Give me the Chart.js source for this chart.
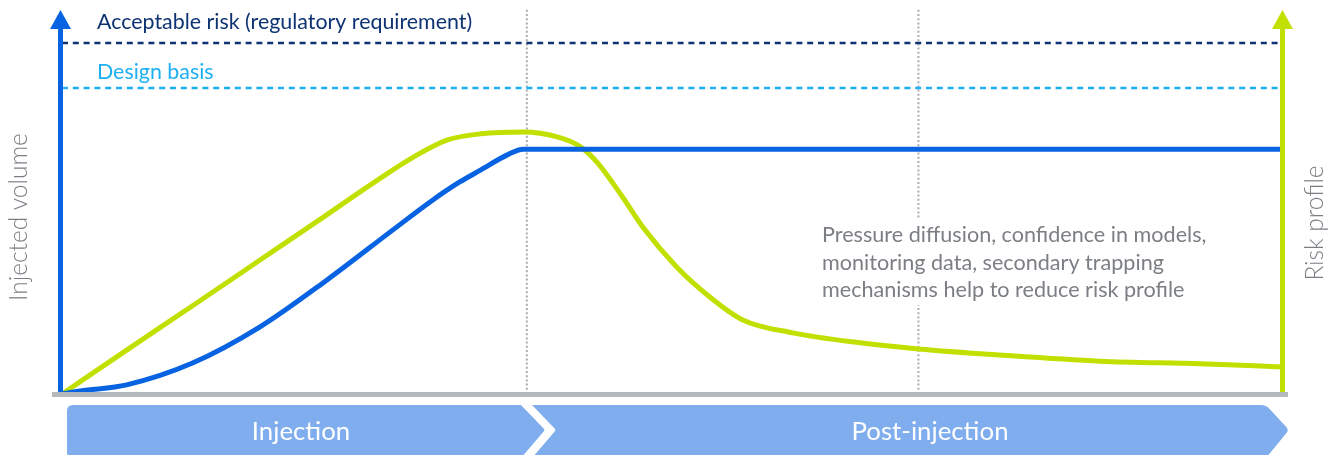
<!DOCTYPE html>
<html>
<head>
<meta charset="utf-8">
<script src="https://cdn.jsdelivr.net/npm/chart.js@4/dist/chart.umd.min.js"></script>
<style>
  html, body { margin: 0; padding: 0; background: #ffffff; }
  #wrap { width: 1340px; height: 455px; }
</style>
</head>
<body>
<div id="wrap"><canvas id="c" width="1340" height="455"></canvas></div>
<script>
// Time runs 0..100 across the project life, levels are on a 0..100 scale.
const injectedTime   = [0, 1.5, 5.3, 10.7, 16.2, 21.7, 27.1, 30.4, 32.6, 34.3, 36.5, 37.8, 60, 80, 100];
const injectedVolume = [0, 0.8, 2.4, 8.1, 17.5, 29.8, 42.9, 50.8, 55.5, 58.6, 62.6, 64.1, 64.1, 64.1, 64.1];

const riskTime    = [0, 5.3, 10.7, 16.2, 21.7, 26.1, 28.8, 31.6, 34.3, 37.8, 40.6, 42.5, 43.9, 46.0, 47.6, 50.4, 53.1, 55.8, 59.9, 65.4, 70.2, 76.9, 85.1, 93.3, 100];
const riskProfile = [0, 11.5, 23.1, 35.0, 46.9, 56.5, 62.0, 66.5, 68.1, 68.6, 67.3, 64.7, 60.5, 51.3, 43.7, 33.2, 25.4, 19.4, 16.0, 13.4, 11.8, 10.2, 8.6, 7.9, 7.1];

const acceptableRisk = 91.9;
const designBasis    = 80.1;
const phaseBoundaries = [38.1, 70.2];

const phaseLabels = ['Injection', 'Post-injection'];
const noteLines = [
  'Pressure diffusion, confidence in models,',
  'monitoring data, secondary trapping',
  'mechanisms help to reduce risk profile'
];

const BLUE = '#0863e2';
const GREEN = '#c1e000';
const NAVY = '#0e3372';
const SKY = '#1cb0f2';
const GREY_TEXT = '#7b7f84';
const FONT = 'Lato, "Open Sans", sans-serif';

const toPts = (xs, ys) => xs.map((x, i) => ({ x, y: ys[i] }));

const datasets = [
  {
    label: 'Injected volume',
    data: toPts(injectedTime, injectedVolume),
    borderColor: BLUE, borderWidth: 5,
    cubicInterpolationMode: 'monotone',
    pointRadius: 0, fill: false, clip: false, order: 0
  },
  {
    label: 'Risk profile',
    data: toPts(riskTime, riskProfile),
    borderColor: GREEN, borderWidth: 5,
    cubicInterpolationMode: 'monotone',
    pointRadius: 0, fill: false, clip: false, order: 1
  },
  {
    label: 'Acceptable risk (regulatory requirement)',
    data: [{ x: 0, y: acceptableRisk }, { x: 100, y: acceptableRisk }],
    borderColor: NAVY, borderWidth: 2.5, borderDash: [6, 4.8],
    pointRadius: 0, fill: false, clip: false, order: 3
  },
  {
    label: 'Design basis',
    data: [{ x: 0, y: designBasis }, { x: 100, y: designBasis }],
    borderColor: SKY, borderWidth: 2.5, borderDash: [6, 4.8],
    pointRadius: 0, fill: false, clip: false, order: 3
  }
];
phaseBoundaries.forEach(b => datasets.push({
  label: 'phase boundary',
  data: [{ x: b, y: 0 }, { x: b, y: 100.6 }],
  borderColor: '#a9acb0', borderWidth: 2, borderDash: [2, 2.2],
  pointRadius: 0, fill: false, clip: false, order: 5
}));

function roundedPoly(ctx, pts) {
  ctx.beginPath();
  const n = pts.length;
  for (let i = 0; i < n; i++) {
    const p0 = pts[(i - 1 + n) % n], p1 = pts[i], p2 = pts[(i + 1) % n];
    const rr = p1[2];
    const d1 = Math.hypot(p0[0] - p1[0], p0[1] - p1[1]);
    const d2 = Math.hypot(p2[0] - p1[0], p2[1] - p1[1]);
    const a = [p1[0] + (p0[0] - p1[0]) * rr / d1, p1[1] + (p0[1] - p1[1]) * rr / d1];
    const b = [p1[0] + (p2[0] - p1[0]) * rr / d2, p1[1] + (p2[1] - p1[1]) * rr / d2];
    if (i === 0) ctx.moveTo(a[0], a[1]); else ctx.lineTo(a[0], a[1]);
    ctx.quadraticCurveTo(p1[0], p1[1], b[0], b[1]);
  }
  ctx.closePath();
}

const decorations = {
  id: 'decorations',
  afterDatasetsDraw(chart) {
    const { ctx, chartArea: ca, scales: { y } } = chart;
    ctx.save();

    // note box: blanks the boundary line behind the text
    ctx.fillStyle = '#ffffff';
    ctx.fillRect(812, 219, 405, 86);
    ctx.fillStyle = GREY_TEXT;
    ctx.font = '21.6px ' + FONT;
    ctx.textAlign = 'left';
    ctx.textBaseline = 'alphabetic';
    noteLines.forEach((t, i) => ctx.fillText(t, 822, 242 + i * 27.5));

    // horizontal reference labels
    ctx.font = '21.4px ' + FONT;
    ctx.fillStyle = NAVY;
    ctx.fillText('Acceptable risk (regulatory requirement)', 97, y.getPixelForValue(acceptableRisk) - 14);
    ctx.fillStyle = SKY;
    ctx.fillText('Design basis', 97, y.getPixelForValue(designBasis) - 9);

    // vertical axes with arrow heads
    const drawAxis = (px, color) => {
      ctx.fillStyle = color;
      ctx.fillRect(px - 2.5, 27, 5, ca.bottom - 27);
      ctx.beginPath();
      ctx.moveTo(px, 10);
      ctx.lineTo(px + 10.5, 29);
      ctx.lineTo(px - 10.5, 29);
      ctx.closePath();
      ctx.fill();
    };
    drawAxis(60.5, BLUE);
    drawAxis(1282.5, GREEN);

    // baseline
    ctx.fillStyle = '#b6b9bc';
    ctx.fillRect(52, 392, 1236, 5);

    // axis titles
    ctx.fillStyle = GREY_TEXT;
    ctx.font = '300 24.5px ' + FONT;
    ctx.textAlign = 'center';
    ctx.textBaseline = 'middle';
    ctx.save();
    ctx.translate(19, 217);
    ctx.rotate(-Math.PI / 2);
    ctx.fillText('Injected volume', 0, 0);
    ctx.restore();
    ctx.save();
    ctx.translate(1315, 223);
    ctx.rotate(-Math.PI / 2);
    ctx.fillText('Risk profile', 0, 0);
    ctx.restore();

    // phase banners
    ctx.fillStyle = '#80adee';
    roundedPoly(ctx, [[67, 405, 6], [521, 405, 0], [545, 430, 2], [521, 458, 0], [67, 458, 6]]);
    ctx.fill();
    roundedPoly(ctx, [[532, 405, 0], [1266, 405, 5], [1289, 430, 4], [1266, 458, 0], [532, 458, 0], [556, 430, 2]]);
    ctx.fill();

    ctx.fillStyle = '#ffffff';
    ctx.font = '25.8px ' + FONT;
    ctx.textAlign = 'center';
    ctx.textBaseline = 'middle';
    ctx.fillText(phaseLabels[0], 301, 432);
    ctx.fillText(phaseLabels[1], 930, 432);

    ctx.restore();
  }
};

new Chart(document.getElementById('c'), {
  type: 'line',
  data: { datasets },
  options: {
    responsive: false,
    animation: false,
    layout: { padding: { left: 62, right: 58, top: 12, bottom: 61 } },
    plugins: { legend: { display: false }, tooltip: { enabled: false } },
    scales: {
      x: { type: 'linear', min: 0, max: 100, display: false },
      y: { type: 'linear', min: 0, max: 100, display: false }
    }
  },
  plugins: [decorations]
});
</script>
</body>
</html>
